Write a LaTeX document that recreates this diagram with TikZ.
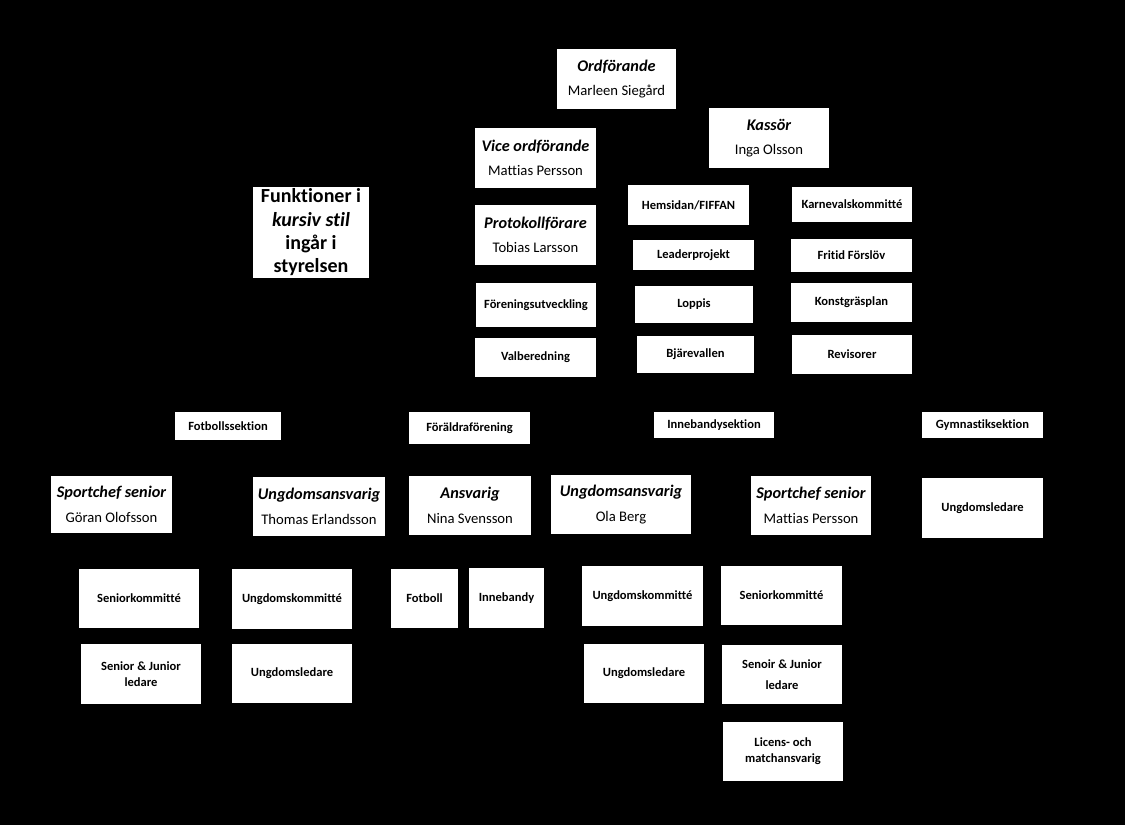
\documentclass[tikz,border=0pt]{standalone}
\usepackage{fontspec}
\setmainfont{Carlito}[Ligatures=NoCommon]
\begin{document}
\begin{tikzpicture}[x=0.75pt,y=-0.75pt,
  box/.style={fill=white,draw=none,inner sep=0pt,align=center,text=black,font=\fontsize{9.4}{12}\selectfont\bfseries},
  pbox/.style={box,font=\fontsize{11}{12}\selectfont},
  fbox/.style={box,font=\fontsize{15}{17.5}\selectfont\bfseries}]
\newcommand\ttl[1]{{\fontsize{12.2}{13}\selectfont\bfseries\itshape #1}}
\newcommand\bx[7][box]{\node[#1, minimum width={(#5-#3)*0.75pt}, minimum height={(#6-#4)*0.75pt}] (#2) at ({(#3+#5)/2},{(#4+#6)/2}) {#7};}
\fill[black] (0,0) rectangle (1125,825);
% board
\bx[pbox]{ordf}{557}{49}{676}{109}{\ttl{Ordförande}\\[6.5pt]Marleen Siegård}
\bx[pbox]{kass}{709}{108}{829}{168}{\ttl{Kassör}\\[6.5pt]Inga Olsson}
\bx[pbox]{vice}{475}{128}{596}{188}{\ttl{Vice ordförande}\\[6.5pt]Mattias Persson}
\bx[pbox]{prot}{475}{205}{596}{265}{\ttl{Protokollförare}\\[6.5pt]Tobias Larsson}
\bx[fbox]{funk}{253}{187}{369}{278}{Funktioner i\\\textit{kursiv stil}\\ingår i\\styrelsen}
\bx{fore}{476}{283}{596}{327}{Föreningsutveckling}
\bx{valb}{475}{338}{596}{377}{Valberedning}
\bx{hems}{628}{185}{749}{225}{Hemsidan/FIFFAN}
\bx{karn}{792}{187}{912}{222}{Karnevalskommitté}
\bx{lead}{633}{240}{754}{270}{Leaderprojekt}
\bx{frit}{791}{239}{912}{272}{Fritid Förslöv}
\bx{lopp}{635}{286}{753}{323}{Loppis}
\bx{kons}{791}{283}{912}{322}{Konstgräsplan}
\bx{bjar}{637}{336}{754}{373}{Bjärevallen}
\bx{revi}{792}{335}{912}{374}{Revisorer}
% sections
\bx{fots}{175}{412}{281}{440}{Fotbollssektion}
\bx{fora}{409}{412}{530}{444}{Föräldraförening}
\bx{inns}{654}{412}{774}{438}{Innebandysektion}
\bx{gyms}{922}{412}{1043}{438}{Gymnastiksektion}
% responsible
\bx[pbox]{spf}{51}{476}{172}{533}{\ttl{Sportchef senior}\\[6.5pt]Göran Olofsson}
\bx[pbox]{ungf}{253}{477}{385}{536}{\ttl{Ungdomsansvarig}\\[6.5pt]Thomas Erlandsson}
\bx[pbox]{ansv}{409}{476}{531}{535}{\ttl{Ansvarig}\\[6.5pt]Nina Svensson}
\bx[pbox]{ungi}{551}{475}{691}{534}{\ttl{Ungdomsansvarig}\\[6.5pt]Ola Berg}
\bx[pbox]{spi}{751}{476}{871}{535}{\ttl{Sportchef senior}\\[6.5pt]Mattias Persson}
\bx{ungg}{922}{478}{1043}{538}{Ungdomsledare}
% bottom
\bx{senf}{79}{569}{199}{628}{Seniorkommitté}
\bx{ukf}{232}{569}{352}{629}{Ungdomskommitté}
\bx{fotb}{391}{569}{458}{628}{Fotboll}
\bx{inne}{469}{568}{544}{628}{Innebandy}
\bx{sjlf}{81}{644}{201}{704}{Senior \& Junior\\ledare}
\bx{ulf}{232}{644}{352}{703}{Ungdomsledare}
\bx{uki}{582}{566}{703}{626}{Ungdomskommitté}
\bx{seni}{721}{566}{842}{625}{Seniorkommitté}
\bx{uli}{584}{644}{704}{703}{Ungdomsledare}
\bx{sjli}{722}{645}{842}{704}{Senoir \& Junior\\[4pt]ledare}
\bx{lice}{723}{722}{843}{781}{Licens- och\\matchansvarig}
\end{tikzpicture}
\end{document}
